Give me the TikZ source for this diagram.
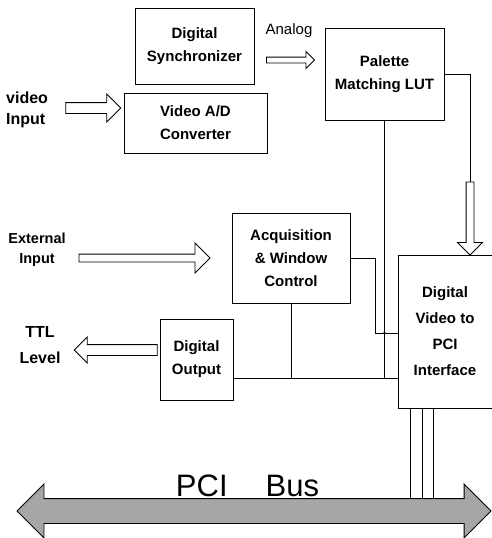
\documentclass[tikz,border=0pt]{standalone}
\usepackage{fontspec}
\setmainfont{Liberation Sans}
\usetikzlibrary{shapes.arrows}

\begin{document}
\begin{tikzpicture}[x=1pt, y=-1pt,
    blk/.style={draw, line width=0.9pt, align=center, inner sep=0pt,
      font=\fontsize{15}{23}\selectfont\bfseries},
    lbl/.style={align=center, inner sep=0pt, font=\fontsize{16}{21}\selectfont\bfseries},
    wire/.style={line width=0.8pt},
    fat/.style 2 args={draw, line width=0.8pt, single arrow, inner xsep=0pt,
      inner ysep=#1, single arrow head extend=#2}]
  \useasboundingbox (0,0) rectangle (491,538);
  % blocks
  \node[blk, minimum width=119, minimum height=76] (sync) at (194.5,46) {Digital\\Synchronizer};
  \node[blk, minimum width=143, minimum height=60] (adc) at (195.5,123) {Video A/D\\Converter};
  \node[blk, minimum width=119, minimum height=92] (lut) at (384.5,74) {Palette\\Matching LUT};
  \node[blk, minimum width=118, minimum height=90] (acq) at (291,258) {Acquisition\\\& Window\\Control};
  \node[blk, minimum width=94, minimum height=153, font=\fontsize{15}{26}\selectfont\bfseries]
    (dvpci) at (445,331.5) {Digital\\Video to\\PCI\\Interface};
  \node[blk, minimum width=73, minimum height=81] (dout) at (196.5,359.5) {Digital\\Output};
  % outside labels
  \node[lbl, align=left, anchor=west] (vin) at (6,110) {video\\Input};
  \node[inner sep=0pt, font=\fontsize{15}{18}\selectfont] (analog) at (289,31) {Analog};
  \node[lbl, font=\fontsize{14.5}{20}\selectfont\bfseries] (extin) at (37,250) {External\\Input};
  \node[lbl, font=\fontsize{16}{26}\selectfont\bfseries] (ttl) at (40,345) {TTL\\Level};
  % hollow arrows
  \node[fat={5}{8.5}, minimum height=55] (vidarr) at (90.5,108) {};
  \node[fat={2.5}{5.5}, minimum height=48] (anarr) at (289,60) {};
  \node[fat={3.5}{11}, minimum height=131] (extarr) at (142.5,258) {};
  \node[fat={5}{7.5}, minimum height=83, shape border rotate=180] (ttlarr) at (118.5,350) {};
  \node[fat={0}{8.5}, inner xsep=3.5, minimum height=73, shape border rotate=270] (lutarr) at (470,216.5) {};
  % bus
  \node[draw, line width=0.8pt, fill=black!35, double arrow, inner xsep=0pt, inner ysep=12,
    double arrow head extend=14.5, minimum height=474] (pcibus) at (254,511) {};
  \node[anchor=base, inner sep=0pt, font=\fontsize{31}{31}\selectfont] (buslbl) at (247.5,496) {PCI\hspace{38pt}Bus};
  % wiring
  \coordinate (rail) at (0,378);
  \coordinate (bend) at (375,333);
  \coordinate (bustop) at ([yshift=12pt]pcibus.center);
  \draw[wire] (dout.east |- rail) -- (dvpci.west |- rail);
  \draw[wire] (lut.south) -- (lut.south |- rail);
  \draw[wire] (acq.south) -- (acq.south |- rail);
  \draw[wire] (acq.east) -| (bend) -- (dvpci.west |- bend);
  \draw[wire] (lut.east) -| (lutarr.tail);
  \fill (lut.south |- bend) circle (1.3);
  \foreach \x in {410,422,433} \draw[wire] (\x,0 |- dvpci.south) -- (\x,0 |- bustop);
\end{tikzpicture}
\end{document}
